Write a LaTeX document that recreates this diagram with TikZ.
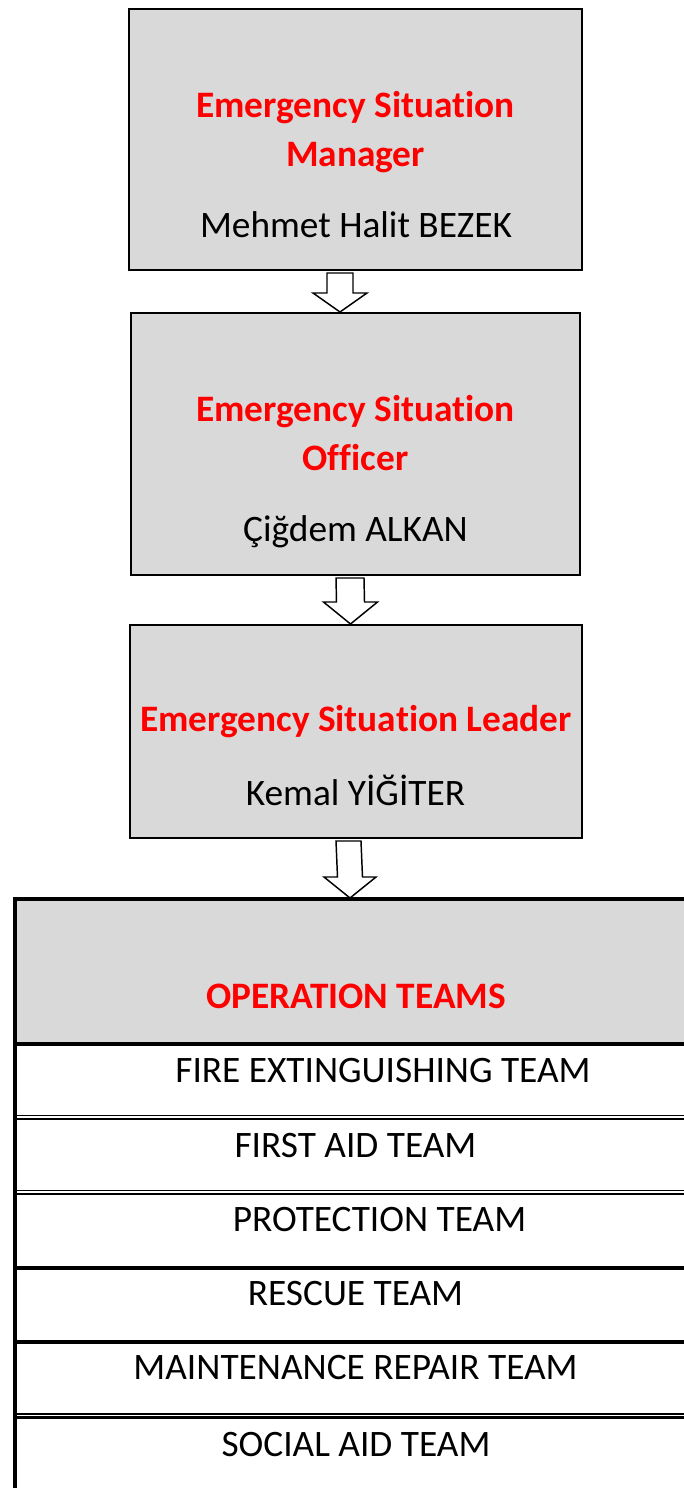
\documentclass[tikz,border=0pt]{standalone}
\usepackage{fontspec}
\setmainfont{Carlito}[RawFeature=-liga]
\usetikzlibrary{calc}
\definecolor{boxgray}{HTML}{D9D9D9}
\definecolor{titlered}{HTML}{FF0000}
\newcommand\px{0.75pt}
% block arrow from node #1 (south) to node #2 (north); #3 x offset, #4 head length, #5 shaft half width, #6 head half width
\newcommand\blockarrow[6]{%
  \draw[barrow] ($(#1.south)+(#3-#5,3)$) -- ($(#2.north)+(#3-#5,-#4)$) -- ($(#2.north)+(#3-#6,-#4)$) -- ($(#2.north)+(#3,-1)$) -- ($(#2.north)+(#3+#6,-#4)$) -- ($(#2.north)+(#3+#5,-#4)$) -- ($(#1.south)+(#3+#5,3)$) -- cycle;}
\begin{document}
\begin{tikzpicture}[x=0.75pt,y=-0.75pt,
  graybox/.style={draw=black, fill=boxgray, line width=1.6pt, inner sep=0pt, outer sep=0pt},
  hdrbox/.style={fill=boxgray, draw=none, inner sep=0pt, outer sep=0pt},
  ttltext/.style={font=\fontsize{28}{32}\selectfont\bfseries, text=titlered, anchor=base, inner sep=0pt},
  plaintext/.style={font=\fontsize{28}{32}\selectfont, text=black, anchor=base, inner sep=0pt},
  barrow/.style={draw=black, fill=white, line width=1.1pt, line join=miter},
  tblline/.style={draw=black, line width=3pt},
  rulethin/.style={draw=black, line width=1.1pt},
  rulemed/.style={draw=black, line width=1.9pt}]
\useasboundingbox (0,0) rectangle (684,1488);
\clip (0,0) rectangle (684,1488);
\fill[white] (0,0) rectangle (684,1488);

% boxes
\node[graybox, minimum width=453*\px, minimum height=261*\px] (b1) at (355.5,139.5) {};
\node[graybox, minimum width=449*\px, minimum height=262*\px] (b2) at (355.5,444) {};
\node[graybox, minimum width=452*\px, minimum height=213*\px] (b3) at (356,731.5) {};

\node[ttltext] (t1a) at (355.5,117.5) {Emergency Situation};
\node[ttltext] (t1b) at (355.5,166.5) {Manager};
\node[plaintext] (n1) at (356,237) {Mehmet Halit BEZEK};

\node[ttltext] (t2a) at (355.5,421.5) {Emergency Situation};
\node[ttltext] (t2b) at (355.5,470.5) {Officer};
\node[plaintext] (n2) at (355.5,541) {Çiğdem ALKAN};

\node[ttltext] (t3) at (356,731.5) {Emergency Situation Leader};
\node[plaintext] (n3) at (355.5,805) {Kemal YİĞİTER};

% table
\node[hdrbox, anchor=north west, minimum width=685*\px, minimum height=145*\px] (ops) at (15,899) {};
\node[ttltext] (opst) at (356,1008.5) {OPERATION TEAMS};

\node[plaintext] (r1) at (383,1082) {FIRE EXTINGUISHING TEAM};
\node[plaintext] (r2) at (355.5,1157.5) {FIRST AID TEAM};
\node[plaintext] (r3) at (379.5,1231.5) {PROTECTION TEAM};
\node[plaintext] (r4) at (355.5,1305.5) {RESCUE TEAM};
\node[plaintext] (r5) at (355.5,1379.5) {MAINTENANCE REPAIR TEAM};
\node[plaintext] (r6) at (356,1456) {SOCIAL AID TEAM};

% table rules
\draw[tblline] (ops.south west) -- (ops.south east);
\draw[rulethin] (15,1115.5) -- (700,1115.5);
\draw[rulemed] (15,1119) -- (700,1119);
\draw[rulethin] (15,1190.5) -- (700,1190.5);
\draw[rulemed] (15,1194) -- (700,1194);
\draw[tblline] (15,1268) -- (700,1268);
\draw[tblline] (15,1342) -- (700,1342);
\draw[rulethin] (15,1414) -- (700,1414);
\draw[rulemed] (15,1417.5) -- (700,1417.5);
\draw[tblline] ($(ops.north west)+(0,620)$) -- (ops.north west) -- (ops.north east);

% arrows
\blockarrow{b1}{b2}{-15.5}{20}{13}{27}
\blockarrow{b2}{b3}{-5.5}{23}{14}{27}
\blockarrow{b3}{ops}{-7.5}{22}{12.5}{26}
\end{tikzpicture}
\end{document}
